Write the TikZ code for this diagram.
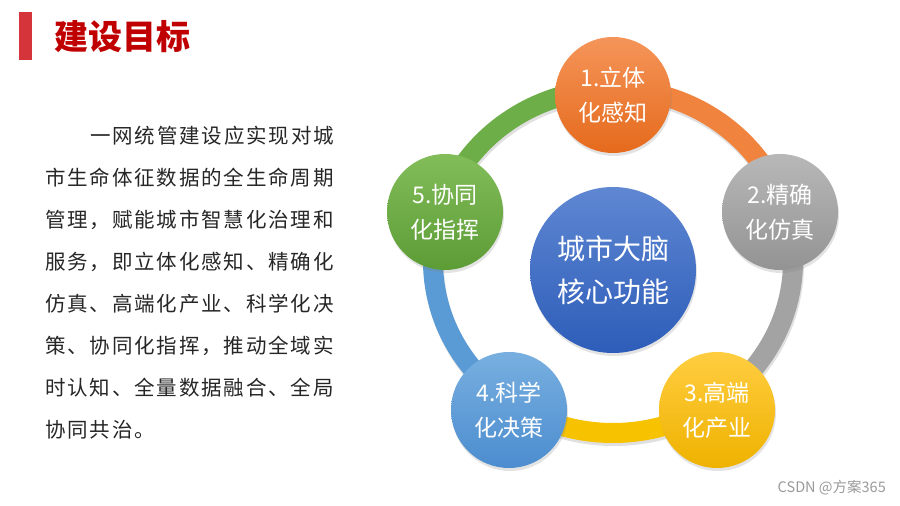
\documentclass[tikz,border=0pt]{standalone}
\usepackage{fontspec}
\newfontfamily\cjk{Noto Sans CJK SC}
\newfontfamily\cjkls{Noto Sans CJK SC}[LetterSpace=9]
\usetikzlibrary{shadows}
\definecolor{titlered}{HTML}{C00000}
\definecolor{barred}{HTML}{D5343B}
\definecolor{bodytext}{HTML}{262626}
\definecolor{oTop}{HTML}{F5955A}
\definecolor{oBot}{HTML}{E56A1C}
\definecolor{oRing}{HTML}{F0843F}
\definecolor{gTop}{HTML}{B8B8B8}
\definecolor{gBot}{HTML}{939393}
\definecolor{gRing}{HTML}{A3A3A3}
\definecolor{yTop}{HTML}{FFCD40}
\definecolor{yBot}{HTML}{EFB200}
\definecolor{yRing}{HTML}{F7C200}
\definecolor{bTop}{HTML}{78AFE0}
\definecolor{bBot}{HTML}{4C8DCF}
\definecolor{bRing}{HTML}{5B9BD5}
\definecolor{vTop}{HTML}{82BD5A}
\definecolor{vBot}{HTML}{5C9C35}
\definecolor{vRing}{HTML}{6EAE48}
\definecolor{cTop}{HTML}{5F87D2}
\definecolor{cBot}{HTML}{2D5DB9}
\definecolor{wm}{HTML}{9A9A9A}
\tikzset{
  seg/.style={line width=20pt, line cap=butt},
  segshadow/.style={line width=20pt, draw=black, opacity=0.12},
  bubble/.style={circle, minimum size=116pt, inner sep=0pt, text=white,
    font=\cjk\fontsize{23}{35}\selectfont, align=center,
    drop shadow={opacity=0.22, shadow xshift=1pt, shadow yshift=-3pt}},
  hub/.style={bubble, minimum size=166pt, font=\cjk\fontsize{28}{43}\selectfont},
  bodyline/.style={anchor=west, inner sep=0pt, text=bodytext,
    font=\cjkls\fontsize{20.5}{21}\selectfont}
}
\begin{document}
\begin{tikzpicture}[x=1pt,y=1pt]
\useasboundingbox (0,0) rectangle (900,506);
\fill[white] (0,0) rectangle (900,506);
% title
\fill[barred] (19,446) rectangle (32,494);
\node[anchor=west, inner sep=0pt, text=titlered, font=\cjk\bfseries\fontsize{34}{34}\selectfont] (title) at (54,469) {建设目标};
% body text
\node[bodyline] (l1) at (90,370) {一网统管建设应实现对城};
\node[bodyline] (l2) at (45,328) {市生命体征数据的全生命周期};
\node[bodyline] (l3) at (45,286) {管理，赋能城市智慧化治理和};
\node[bodyline] (l4) at (45,244) {服务，即立体化感知、精确化};
\node[bodyline] (l5) at (45,202) {仿真、高端化产业、科学化决};
\node[bodyline] (l6) at (45,160) {策、协同化指挥，推动全域实};
\node[bodyline] (l7) at (45,118) {时认知、全量数据融合、全局};
\node[bodyline] (l8) at (45,76) {协同共治。};
% ring
\coordinate (E) at (613,245);
\coordinate (Es) at (614,242);
\draw[segshadow] ([shift={(0:180pt and 172pt)}]Es) arc[start angle=0, end angle=360, x radius=180pt, y radius=172pt];
\draw[seg, oRing] ([shift={(90:180pt and 172pt)}]E) arc[start angle=90, end angle=17, x radius=180pt, y radius=172pt];
\draw[seg, gRing] ([shift={(17:180pt and 172pt)}]E) arc[start angle=17, end angle=-56, x radius=180pt, y radius=172pt];
\draw[seg, yRing] ([shift={(-56:180pt and 172pt)}]E) arc[start angle=-56, end angle=-124, x radius=180pt, y radius=172pt];
\draw[seg, bRing] ([shift={(-124:180pt and 172pt)}]E) arc[start angle=-124, end angle=-197, x radius=180pt, y radius=172pt];
\draw[seg, vRing] ([shift={(163:180pt and 172pt)}]E) arc[start angle=163, end angle=90, x radius=180pt, y radius=172pt];
% bubbles
\node[hub, top color=cTop, bottom color=cBot] (hub) at (613,236) {城市大脑\\核心功能};
\node[bubble, top color=oTop, bottom color=oBot] (n1) at (613,411) {1.立体\\化感知};
\node[bubble, top color=gTop, bottom color=gBot] (n2) at (780,294) {2.精确\\化仿真};
\node[bubble, top color=yTop, bottom color=yBot] (n3) at (717,96) {3.高端\\化产业};
\node[bubble, top color=bTop, bottom color=bBot] (n4) at (509,96) {4.科学\\化决策};
\node[bubble, top color=vTop, bottom color=vBot] (n5) at (445,294) {5.协同\\化指挥};
% watermark
\node[anchor=east, inner sep=0pt, text=wm, font=\cjk\fontsize{14.5}{14.5}\selectfont] (wmark) at (886,18) {CSDN @方案365};
\end{tikzpicture}
\end{document}
